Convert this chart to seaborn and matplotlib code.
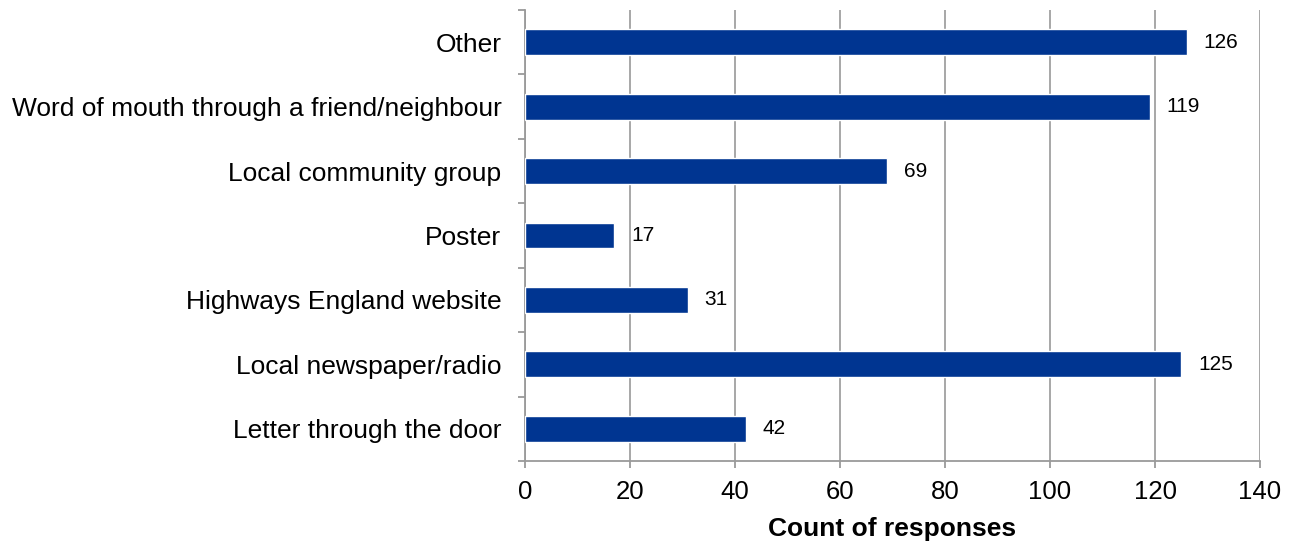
import matplotlib
matplotlib.use("Agg")
import matplotlib.pyplot as plt
import seaborn as sns
import pandas as pd
import numpy as np

categories = ["Other", "Word of mouth through a friend/neighbour", "Local community group",
              "Poster", "Highways England website", "Local newspaper/radio",
              "Letter through the door"]
counts = [126, 119, 69, 17, 31, 125, 42]
x_ticks = [0, 20, 40, 60, 80, 100, 120, 140]
x_label = "Count of responses"

sns.set_theme(style="white")
plt.rcParams['font.family'] = ['Liberation Sans', 'DejaVu Sans']
plt.rcParams['text.color'] = 'black'
plt.rcParams['axes.labelcolor'] = 'black'
plt.rcParams['xtick.color'] = 'black'
plt.rcParams['ytick.color'] = 'black'

df = pd.DataFrame({"category": categories, "count": counts})

fig = plt.figure(figsize=(12.97, 5.47), dpi=100)
ax = fig.add_axes([0.4048, 0.1572, 0.9715 - 0.4048, 0.9817 - 0.1572])

sns.barplot(data=df, y="category", x="count", order=categories, color="#003591",
            width=0.40, saturation=1, ax=ax, zorder=3)

ax.set_xlim(0, 140)
ax.set_ylim(len(categories) - 0.5, -0.5)
ax.set_xticks(x_ticks)
ax.set_xticklabels([str(t) for t in x_ticks], fontsize=18.5)
ax.grid(axis="x", color="#a0a0a0", linewidth=1.3, zorder=0)
ax.set_axisbelow(True)

for s in ["top", "right"]:
    ax.spines[s].set_visible(False)
for s in ["left", "bottom"]:
    ax.spines[s].set_color("#9a9a9a")
    ax.spines[s].set_linewidth(1.3)

ax.tick_params(axis="y", which="major", length=0, pad=17, labelsize=19, labelcolor="black")
ax.set_yticks(np.arange(-0.5, len(categories) + 0.5, 1), minor=True)
ax.tick_params(axis="y", which="minor", length=5, width=1.3, color="#9a9a9a", left=True)
ax.tick_params(axis="x", which="major", length=5, width=1.3, color="#9a9a9a",
               bottom=True, pad=9, labelcolor="black")

ax.set_ylabel("")
ax.set_xlabel(x_label, fontsize=19, fontweight="bold", labelpad=9, color="black")

for c in ax.containers:
    ax.bar_label(c, labels=[str(v) for v in counts], padding=12, fontsize=15, color="black")

fig.savefig("out.png", dpi=100)
